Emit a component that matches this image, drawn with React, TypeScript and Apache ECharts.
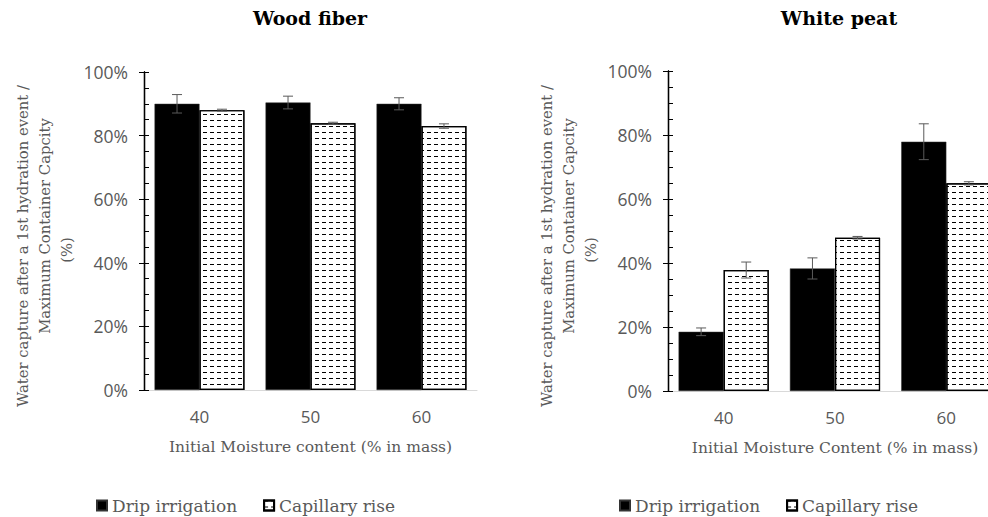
import React, { useEffect, useRef } from "react";
import * as echarts from "echarts";

const categories = ["40", "50", "60"];
const woodDrip = [90.0, 90.4, 90.0];
const woodDripErr = [2.9, 2.0, 1.9];
const woodCap = [88.0, 83.9, 83.0];
const woodCapErr = [0.3, 0.3, 0.7];
const peatDrip = [18.5, 38.3, 77.9];
const peatDripErr = [1.2, 3.3, 5.6];
const peatCap = [37.8, 47.9, 64.9];
const peatCapErr = [2.5, 0.4, 0.5];
const yTicks = [0, 20, 40, 60, 80, 100];

const GRAY = "#595959";
const SERIF = "DejaVu Serif";
const SANS = "Open Sans";
const CAT_GAP = 0.19;
const CHART_W = 1002;

const hatchDecal = {
  symbol: "rect",
  symbolSize: 1,
  color: "#000",
  dashArrayX: [4, 3],
  dashArrayY: [1, 4.5],
  rotation: 0,
};

function errData(vals: number[], errs: number[], side: number) {
  return vals.map((v, i) => [i, v, errs[i], side]);
}

function renderErr(params: any, api: any) {
  const cat = api.value(0);
  const val = api.value(1);
  const err = api.value(2);
  const side = api.value(3);
  const band = api.size([1, 0])[0];
  const barW = (band * (1 - CAT_GAP)) / 2;
  const c = api.coord([cat, val]);
  const x = c[0] + (side === 0 ? -barW / 2 : barW / 2);
  const top = api.coord([cat, val + err])[1];
  const bot = api.coord([cat, val - err])[1];
  const cap = 5;
  const style = { stroke: "#5a5a5a", lineWidth: 1 };
  return {
    type: "group",
    children: [
      { type: "line", shape: { x1: x, y1: top, x2: x, y2: bot }, style },
      { type: "line", shape: { x1: x - cap, y1: top, x2: x + cap, y2: top }, style },
      { type: "line", shape: { x1: x - cap, y1: bot, x2: x + cap, y2: bot }, style },
    ],
  };
}

function xAxisCfg(gridIndex: number, name: string) {
  return {
    gridIndex,
    type: "category",
    data: categories,
    axisLine: { lineStyle: { color: "#d9d9d9", width: 1 } },
    axisTick: { show: false },
    axisLabel: { color: GRAY, fontFamily: SANS, fontSize: 17, margin: 18 },
    name,
    nameLocation: "middle",
    nameGap: 49,
    nameTextStyle: { color: GRAY, fontFamily: SERIF, fontSize: 15.5 },
  };
}

function yAxisMain(gridIndex: number) {
  return {
    gridIndex,
    type: "value",
    min: yTicks[0],
    max: yTicks[yTicks.length - 1],
    interval: yTicks[1] - yTicks[0],
    axisLine: { show: true, lineStyle: { color: "#000", width: 1.3 } },
    axisTick: { show: true, inside: false, length: 5, lineStyle: { color: "#000" } },
    axisLabel: { color: GRAY, fontFamily: SANS, fontSize: 17.5, margin: 16, formatter: "{value}%" },
    splitLine: { show: false },
  };
}

function yAxisInner(gridIndex: number) {
  return {
    gridIndex,
    type: "value",
    position: "left",
    min: yTicks[0],
    max: yTicks[yTicks.length - 1],
    interval: yTicks[1] - yTicks[0],
    axisLine: { show: true, lineStyle: { color: "#000", width: 1.3 } },
    axisTick: { show: true, inside: true, length: 5, lineStyle: { color: "#000" } },
    minorTick: { show: true, splitNumber: 4, length: 5, lineStyle: { color: "#000" } },
    axisLabel: { show: false },
    splitLine: { show: false },
  };
}

function barSeries(name: string, data: number[], xi: number, yi: number, hatched: boolean) {
  return {
    name,
    type: "bar",
    xAxisIndex: xi,
    yAxisIndex: yi,
    data,
    barGap: "0%",
    barCategoryGap: CAT_GAP * 100 + "%",
    itemStyle: hatched
      ? { color: "#fff", borderColor: "#000", borderWidth: 1.2, decal: hatchDecal }
      : { color: "#000", borderColor: "#333", borderWidth: 0.5 },
  };
}

function errSeries(name: string, data: number[][], xi: number, yi: number) {
  return {
    name,
    type: "custom",
    xAxisIndex: xi,
    yAxisIndex: yi,
    data,
    encode: { x: 0, y: 1 },
    renderItem: renderErr,
    z: 5,
    silent: true,
  };
}

function yLabel(axisX: number) {
  const base = {
    type: "text",
    rotation: Math.PI / 2,
    style: { fill: GRAY, fontFamily: SERIF, fontSize: 14.8, align: "center", verticalAlign: "middle" },
  };
  return [
    { ...base, x: axisX - 122, y: 246, style: { ...base.style, text: "Water capture after a 1st hydration event /" } },
    { ...base, x: axisX - 100, y: 226, style: { ...base.style, text: "Maximum Container Capcity" } },
    { ...base, x: axisX - 78, y: 250, style: { ...base.style, text: "(%)" } },
  ];
}

function legendCfg(left: number) {
  return {
    data: ["Drip irrigation", "Capillary rise"],
    left,
    top: 497,
    padding: 0,
    icon: "rect",
    itemWidth: 10,
    itemHeight: 10,
    itemGap: 26,
    textStyle: { color: GRAY, fontFamily: SERIF, fontSize: 17 },
  };
}

export default function App() {
  const ref = useRef<HTMLDivElement>(null);
  useEffect(() => {
    if (!ref.current) return;
    const chart = echarts.init(ref.current, null, { renderer: "svg" });
    chart.setOption({
      animation: false,
      backgroundColor: "#fff",
      grid: [
        { left: 144, right: CHART_W - 477, top: 72, bottom: 127 },
        { left: 668, right: 0, top: 71, bottom: 126 },
      ],
      xAxis: [
        xAxisCfg(0, "Initial Moisture content (% in mass)"),
        xAxisCfg(1, "Initial Moisture Content (% in mass)"),
      ],
      yAxis: [yAxisMain(0), yAxisInner(0), yAxisMain(1), yAxisInner(1)],
      legend: [legendCfg(96), legendCfg(619)],
      series: [
        barSeries("Drip irrigation", woodDrip, 0, 0, false),
        barSeries("Capillary rise", woodCap, 0, 0, true),
        barSeries("Drip irrigation", peatDrip, 1, 2, false),
        barSeries("Capillary rise", peatCap, 1, 2, true),
        errSeries("err-wood-drip", errData(woodDrip, woodDripErr, 0), 0, 0),
        errSeries("err-wood-cap", errData(woodCap, woodCapErr, 1), 0, 0),
        errSeries("err-peat-drip", errData(peatDrip, peatDripErr, 0), 1, 2),
        errSeries("err-peat-cap", errData(peatCap, peatCapErr, 1), 1, 2),
      ],
      graphic: [
        {
          type: "text",
          x: 310,
          y: 18,
          style: { text: "Wood fiber", fill: "#000", fontFamily: SERIF, fontWeight: "bold", fontSize: 19, align: "center", verticalAlign: "middle" },
        },
        {
          type: "text",
          x: 839,
          y: 18,
          style: { text: "White peat", fill: "#000", fontFamily: SERIF, fontWeight: "bold", fontSize: 19, align: "center", verticalAlign: "middle" },
        },
        ...yLabel(144),
        ...yLabel(668),
      ],
    });
    return () => chart.dispose();
  }, []);
  return (
    <div style={{ position: "fixed", left: 0, top: 0, width: 988, height: 517, overflow: "hidden", background: "#fff" }}>
      <div ref={ref} style={{ width: CHART_W, height: 517 }} />
    </div>
  );
}
